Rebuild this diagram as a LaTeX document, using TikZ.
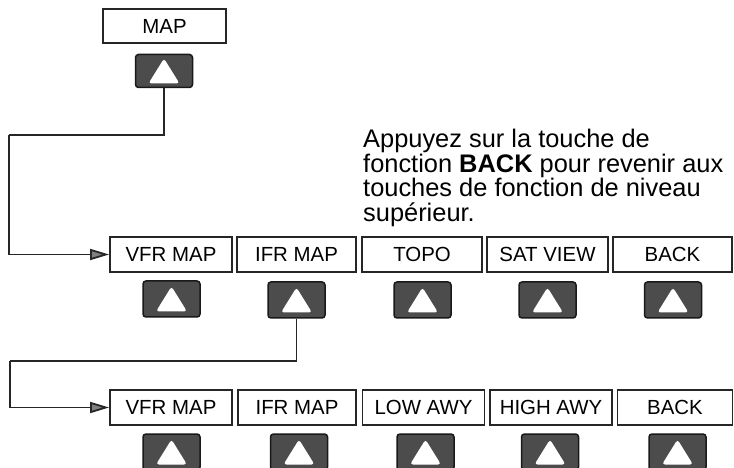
\documentclass[tikz,border=0pt]{standalone}
\usepackage{fontspec}
\setmainfont{Liberation Sans}
\usetikzlibrary{arrows.meta}
\begin{document}
\begin{tikzpicture}[x=1bp,y=-1bp,
  keybox/.style={draw=black!85, line width=1.9bp, fill=white, minimum height=35bp,
    inner sep=0, font=\fontsize{20.5}{24}\selectfont},
  softkey/.style={draw=black!90, line width=1.5bp, fill=black!70, rounded corners=3bp,
    minimum width=57bp, minimum height=36bp, inner sep=0,
    path picture={\fill[white] (path picture bounding box.center) ++(0,-12.5) -- ++(15.5,25) -- ++(-31,0) -- cycle;}},
  conn/.style={draw=black!85, line width=1.8bp},
  tip/.style={-{Triangle[length=19bp,width=11bp,fill=black!50]}}
]
\useasboundingbox (0,0) rectangle (734,468);
\fill[white] (0,0) rectangle (734,468);

% top level
\node[keybox, minimum width=123bp, minimum height=34bp] (map) at (164.5,26) {MAP};
\node[softkey, minimum height=33bp] (mapk) at (164,71) {};

% note
\node[anchor=north west, align=left, inner sep=0, font=\fontsize{25.5}{25}\selectfont] (note) at (363,128.5)
  {Appuyez sur la touche de\\fonction \textbf{BACK} pour revenir aux\\touches de fonction de niveau\\supérieur.};

% row 1
\node[keybox, minimum width=122bp] (vfrA) at (171,254.5) {VFR MAP};
\node[keybox, minimum width=119bp] (ifrA) at (296.5,254.5) {IFR MAP};
\node[keybox, minimum width=120bp] (topoA) at (422,254.5) {TOPO};
\node[keybox, minimum width=121bp] (satA) at (547.5,254.5) {SAT VIEW};
\node[keybox, minimum width=119bp] (backA) at (672.5,254.5) {BACK};
\node[softkey] (vfrAk) at (171.5,299) {};
\node[softkey] (ifrAk) at (296.5,300) {};
\node[softkey] (topoAk) at (422.5,300) {};
\node[softkey] (satAk) at (547.5,300) {};
\node[softkey] (backAk) at (673,300) {};

% row 2
\node[keybox, minimum width=122bp] (vfrB) at (171,407.5) {VFR MAP};
\node[keybox, minimum width=118bp] (ifrB) at (297,407.5) {IFR MAP};
\node[keybox, minimum width=122bp] (lowB) at (423.5,407.5) {LOW AWY};
\node[keybox, minimum width=122bp] (highB) at (551,407.5) {HIGH AWY};
\node[keybox, minimum width=115bp] (backB) at (675,407.5) {BACK};
\node[softkey] (vfrBk) at (171.5,452) {};
\node[softkey] (ifrBk) at (299,452) {};
\node[softkey] (lowBk) at (425.5,452) {};
\node[softkey] (highBk) at (550,452) {};
\node[softkey] (backBk) at (677.5,452) {};

% connectors
\coordinate (c1) at (9,135);
\coordinate (c2) at (10,361);
\draw[conn] (mapk.south) |- (c1);
\draw[conn, tip] (c1) |- (vfrA.west);
\draw[conn] (ifrAk.south) |- (c2);
\draw[conn, tip] (c2) |- (vfrB.west);
\end{tikzpicture}
\end{document}
